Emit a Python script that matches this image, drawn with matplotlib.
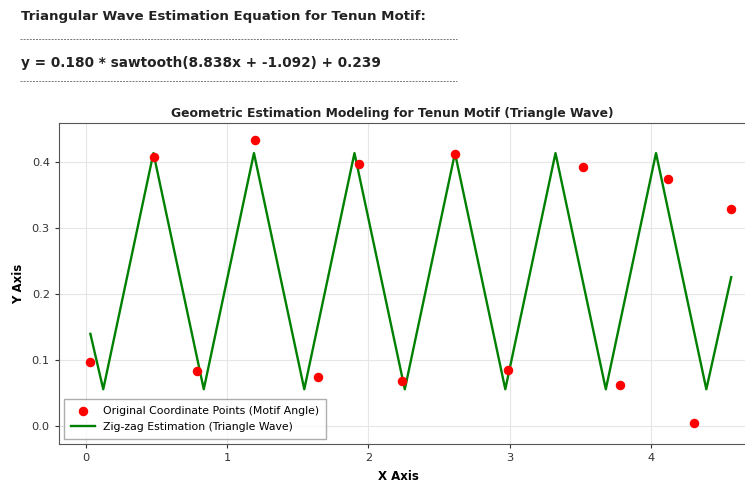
import numpy as np
import matplotlib.pyplot as plt
from matplotlib.lines import Line2D

# Daten
# =====
# Originalpunkte (Motiv-Winkel)
pts_x = [0.033, 0.483, 0.79, 1.20, 1.64, 1.93, 2.24, 2.61, 2.99, 3.52, 3.78, 4.12, 4.30, 4.566]
pts_y = [0.098, 0.408, 0.084, 0.434, 0.075, 0.397, 0.068, 0.412, 0.085, 0.393, 0.063, 0.375, 0.005, 0.330]

# Eckpunkte der Zickzack-Schaetzung
wave_x = [0.033, 0.124, 0.479, 0.835, 1.190, 1.546, 1.901, 2.257, 2.612,
          2.968, 3.323, 3.679, 4.034, 4.390, 4.566]
wave_y = [0.140, 0.056, 0.414, 0.056, 0.414, 0.056, 0.414, 0.056, 0.414,
          0.056, 0.414, 0.056, 0.414, 0.056, 0.226]

x_ticks = [0, 1, 2, 3, 4]
y_ticks = [0.0, 0.1, 0.2, 0.3, 0.4]

header = "Triangular Wave Estimation Equation for Tenun Motif:"
equation = "y = 0.180 * sawtooth(8.838x + -1.092) + 0.239"

plt.rcParams['font.family'] = ['DejaVu Sans']

fig = plt.figure(figsize=(7.45, 4.86), dpi=100)

# Kopftext mit Gleichung
# ----------------------
fig.text(0.028, 0.966, header, fontsize=9.6, fontweight='bold', va='center', color='#222222')
fig.text(0.028, 0.870, equation, fontsize=9.8, fontweight='bold', va='center', color='#222222')
for yy in [0.920, 0.833]:
    fig.add_artist(Line2D([0.027, 0.614], [yy, yy], transform=fig.transFigure,
                          color='#777777', lw=0.7, linestyle=(0, (2, 1.2))))

# Plot
# ----
ax = fig.add_axes([0.079, 0.0864, 0.945, 0.661])
ax.scatter(pts_x, pts_y, color='red', s=34, zorder=3,
           label='Original Coordinate Points (Motif Angle)')
ax.plot(wave_x, wave_y, color='green', lw=1.7, zorder=2,
        label='Zig-zag Estimation (Triangle Wave)')

ax.set_xlim(-0.19, 4.79)
ax.set_ylim(-0.027, 0.46)
ax.set_xticks(x_ticks)
ax.set_yticks(y_ticks)
ax.set_xticklabels([str(t) for t in x_ticks])
ax.set_yticklabels([f"{t:.1f}" for t in y_ticks])
ax.tick_params(labelsize=8.2, colors='#333333', length=3)
ax.grid(True, color='#e6e6e6', lw=0.8)
ax.set_axisbelow(True)
for s in ax.spines.values():
    s.set_color('#555555')

ax.set_title('Geometric Estimation Modeling for Tenun Motif (Triangle Wave)',
             fontsize=8.9, fontweight='bold', x=0.474, pad=4, color='#222222')
ax.set_xlabel('X Axis', fontsize=8.5, fontweight='bold', x=0.483, labelpad=5)
ax.set_ylabel('Y Axis', fontsize=8.5, fontweight='bold', labelpad=5)

ax.legend(loc='lower left', fontsize=7.8, frameon=True, edgecolor='#999999',
          fancybox=False, borderpad=0.6, labelspacing=0.6, handlelength=2.2)

fig.savefig('out.png', dpi=100)
